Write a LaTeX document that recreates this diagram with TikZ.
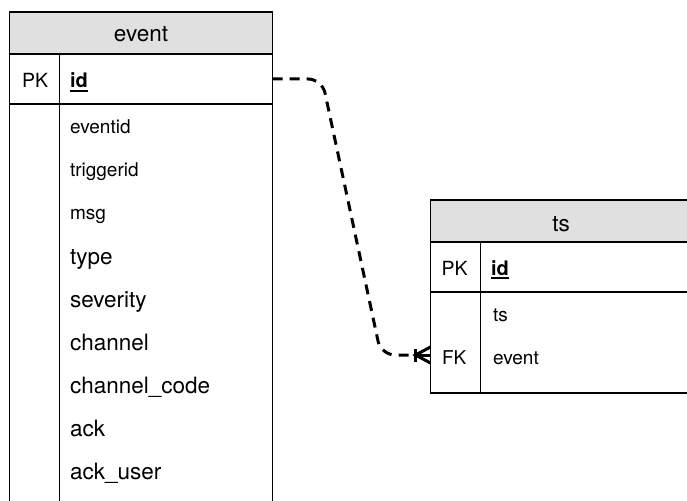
\documentclass[tikz,border=0pt]{standalone}
\usepackage{fontspec}
\setmainfont{TeX Gyre Heros}
\definecolor{hdrgray}{HTML}{E0E0E0}
\begin{document}
\begin{tikzpicture}[x=1pt,y=-1pt,
  tbl/.style={draw=black, line width=1.3pt, inner sep=0pt, outer sep=0pt, anchor=north west},
  hdrbox/.style={tbl, fill=hdrgray},
  txt/.style={anchor=base west, inner sep=0pt, outer sep=0pt, text=black},
  title/.style={anchor=base, inner sep=0pt, font=\fontsize{22.5}{26}\selectfont},
  keytxt/.style={txt, font=\fontsize{19.5}{23}\selectfont},
  pkname/.style={txt, font=\fontsize{20}{24}\selectfont\bfseries},
  small/.style={txt, font=\fontsize{19}{23}\selectfont},
  large/.style={txt, font=\fontsize{22.5}{26}\selectfont},
  conn/.style={draw=black, line width=3pt, dash pattern=on 10pt off 7pt},
  foot/.style={draw=black, line width=3pt}]
\clip (0,0) rectangle (687,500);
\fill[white] (0,0) rectangle (687,500);

% table: event
\node[hdrbox, minimum width=263pt, minimum height=42pt] (evhead) at (9.5,12) {};
\node[tbl, minimum width=263pt, minimum height=50pt] (evpk) at (9.5,54) {};
\node[tbl, minimum width=263pt, minimum height=420pt] (evbody) at (9.5,104) {};
\draw[line width=1.3pt] (59.5,54) -- (59.5,524);
\node[title] (evtitle) at (141,42) {event};
\node[keytxt] (evpkl) at (22,88) {PK};
\node[pkname] (evid) at (70,88) {id};
\draw[line width=1.6pt] ([yshift=-3pt]evid.base west) -- ([yshift=-3pt]evid.base east);
\node[small] (f1) at (70,133) {eventid};
\node[small] (f2) at (70,176) {triggerid};
\node[small] (f3) at (70,219) {msg};
\node[large] (f4) at (70,264) {type};
\node[large] (f5) at (70,307) {severity};
\node[large] (f6) at (70,350) {channel};
\node[large] (f7) at (70,393) {channel\_code};
\node[large] (f8) at (70,436) {ack};
\node[large] (f9) at (70,479) {ack\_user};

% table: ts
\node[hdrbox, minimum width=270pt, minimum height=42pt] (tshead) at (430.5,200) {};
\node[tbl, minimum width=270pt, minimum height=50pt] (tspk) at (430.5,242) {};
\node[tbl, minimum width=270pt, minimum height=101pt] (tsbody) at (430.5,292) {};
\draw[line width=1.3pt] (480.5,242) -- (480.5,393);
\node[title] (tstitle) at (561,231) {ts};
\node[keytxt] (tspkl) at (441.5,275) {PK};
\node[pkname] (tsid) at (491,275) {id};
\draw[line width=1.6pt] ([yshift=-3pt]tsid.base west) -- ([yshift=-3pt]tsid.base east);
\node[small] (g1) at (493,321) {ts};
\node[small] (tsfkl) at (442,364) {FK};
\node[small] (g2) at (493,364) {event};

% relation event.id -> ts.event (one to many)
\coordinate (footbar) at (415.5,355);
\coordinate (tsfk) at (tsbody.west |- footbar);
\draw[conn, rounded corners=14pt] (evpk.east) -- (322,79) -- (381,355) -- (footbar);
\draw[foot] ([yshift=6pt]footbar) -- ([yshift=-7pt]footbar);
\draw[foot] ([yshift=8pt]tsfk) -- (footbar) -- ([yshift=-8pt]tsfk);
\draw[foot] (footbar) -- (tsfk);
\end{tikzpicture}
\end{document}
